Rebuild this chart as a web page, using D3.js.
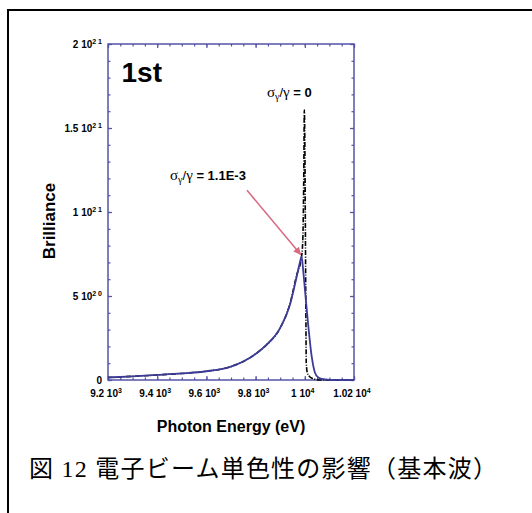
<!DOCTYPE html>
<html>
<head>
<meta charset="utf-8">
<script src="https://cdn.jsdelivr.net/npm/d3@7"></script>
<style>
  body { margin: 0; background: #fff; }
  text { font-family: "Liberation Sans", Arial, sans-serif; }
</style>
</head>
<body>
<div id="chart"></div>
<script>
// energies in eV, brilliance in units of 1e20
var energyBlue = [9200, 9300, 9400, 9500, 9600, 9700, 9750, 9800, 9845, 9900, 9940, 9967, 9980, 9987, 9993, 10001, 10013, 10028, 10041, 10055, 10069, 10100, 10200];
var brillBlue  = [0.15, 0.22, 0.30, 0.39, 0.52, 0.80, 1.1, 1.55, 2.1, 3.1, 4.5, 6.15, 7.0, 7.34, 6.6, 5.3, 3.4, 1.4, 0.45, 0.15, 0.06, 0.01, 0];

var energyBlack = [9200, 9300, 9400, 9500, 9600, 9700, 9750, 9800, 9845, 9900, 9940, 9967, 9985, 9990, 9993, 9996, 9998, 10000, 10002, 10004, 10006, 10010, 10020, 10030, 10045, 10060, 10200];
var brillBlack  = [0.15, 0.22, 0.30, 0.39, 0.52, 0.80, 1.1, 1.55, 2.1, 3.1, 4.55, 6.25, 7.2, 7.8, 9.0, 12.5, 16.07, 14.5, 10, 5, 1.0, 0.45, 0.2, 0.1, 0.03, 0, 0];

var xTicks = [9200, 9400, 9600, 9800, 10000, 10200];
var xTickLabels = [["9.2", "3"], ["9.4", "3"], ["9.6", "3"], ["9.8", "3"], ["1", "4"], ["1.02", "4"]];
var yTicks = [0, 5, 10, 15, 20];
var yTickLabels = [["0", ""], ["5", "20"], ["1", "21"], ["1.5", "21"], ["2", "21"]];

var width = 532, height = 513;
var plot = {left: 108, top: 44, right: 354, bottom: 380};

var axisColor = "#5454a6";
var blueColor = "#3c3c98";
var pink = "#d8677f";

var svg = d3.select("#chart").append("svg")
  .attr("width", width)
  .attr("height", height);

// outer frame
svg.append("rect")
  .attr("x", 8).attr("y", 10)
  .attr("width", 540).attr("height", 540)
  .attr("fill", "none")
  .attr("stroke", "#000")
  .attr("stroke-width", 2);

var x = d3.scaleLinear().domain([9200, 10200]).range([plot.left, plot.right]);
var y = d3.scaleLinear().domain([0, 20]).range([plot.bottom, plot.top]);

// ticks (inward, on all four sides)
function ticks(axis, vals, size, tr) {
  var g = svg.append("g")
    .attr("transform", tr)
    .call(axis.tickValues(vals).tickSize(size).tickFormat(""));
  g.select(".domain").remove();
  g.selectAll("line").attr("stroke", axisColor).attr("stroke-width", 1.2);
}
var xMinor = d3.range(9200, 10201, 50);
var yMinor = d3.range(0, 20.01, 1);
ticks(d3.axisBottom(x), xMinor, -2.5, "translate(0," + plot.bottom + ")");
ticks(d3.axisBottom(x), xTicks, -4, "translate(0," + plot.bottom + ")");
ticks(d3.axisTop(x), xMinor, -2.5, "translate(0," + plot.top + ")");
ticks(d3.axisTop(x), xTicks, -4, "translate(0," + plot.top + ")");
ticks(d3.axisLeft(y), yMinor, -2.5, "translate(" + plot.left + ",0)");
ticks(d3.axisLeft(y), yTicks, -4, "translate(" + plot.left + ",0)");
ticks(d3.axisRight(y), yMinor, -2.5, "translate(" + plot.right + ",0)");
ticks(d3.axisRight(y), yTicks, -4, "translate(" + plot.right + ",0)");

// frame
svg.append("rect")
  .attr("x", plot.left).attr("y", plot.top)
  .attr("width", plot.right - plot.left).attr("height", plot.bottom - plot.top)
  .attr("fill", "none")
  .attr("stroke", axisColor)
  .attr("stroke-width", 1.5);

// tick labels
function tickLabel(sel, d) {
  sel.append("tspan").text(d[0] + (d[1] ? " 10" : ""));
  if (d[1]) {
    sel.append("tspan").attr("font-size", 7).attr("dy", -4).text(d[1].split("").join(" "));
  }
}
xTicks.forEach(function(v, i) {
  var t = svg.append("text")
    .attr("x", x(v) - 2).attr("y", 397)
    .attr("text-anchor", "middle")
    .attr("font-size", 10)
    .attr("font-weight", "bold");
  tickLabel(t, xTickLabels[i]);
});
yTicks.forEach(function(v, i) {
  var t = svg.append("text")
    .attr("x", 102).attr("y", y(v) + 3.5)
    .attr("text-anchor", "end")
    .attr("font-size", 10)
    .attr("font-weight", "bold");
  tickLabel(t, yTickLabels[i]);
});

// axis titles
svg.append("text")
  .attr("x", (plot.left + plot.right) / 2).attr("y", 432)
  .attr("text-anchor", "middle")
  .attr("font-size", 16).attr("font-weight", "bold")
  .text("Photon Energy (eV)");
svg.append("text")
  .attr("transform", "translate(55,221) rotate(-90)")
  .attr("text-anchor", "middle")
  .attr("font-size", 17).attr("font-weight", "bold")
  .text("Brilliance");

// curves
var line = d3.line()
  .x(function(d) { return x(d[0]); })
  .y(function(d) { return y(d[1]); })
  .curve(d3.curveMonotoneX);

svg.append("path")
  .datum(d3.zip(energyBlack, brillBlack))
  .attr("d", line)
  .attr("fill", "none")
  .attr("stroke", "#000")
  .attr("stroke-width", 1.6)
  .attr("stroke-dasharray", "5,1.5,1,1.5");

svg.append("path")
  .datum(d3.zip(energyBlue, brillBlue))
  .attr("d", line)
  .attr("fill", "none")
  .attr("stroke", blueColor)
  .attr("stroke-width", 1.8);

// labels
svg.append("text")
  .attr("x", x(9255)).attr("y", 82)
  .attr("font-size", 28).attr("font-weight", "bold")
  .text("1st");

function sigmaLabel(ex, by, rest) {
  var t = svg.append("text")
    .attr("x", x(ex)).attr("y", y(by))
    .attr("font-size", 13);
  t.append("tspan").attr("font-family", "Liberation Serif, serif").attr("font-size", 15).text("σ");
  t.append("tspan").attr("font-family", "Liberation Serif, serif").attr("font-size", 10).attr("dy", 3).text("γ");
  t.append("tspan").attr("dy", -3).text("/");
  t.append("tspan").attr("font-family", "Liberation Serif, serif").attr("font-size", 15).text("γ");
  t.append("tspan").attr("font-weight", "bold").text(" = " + rest);
}
sigmaLabel(9846, 16.85, "0");
sigmaLabel(9452, 11.9, "1.1E-3");

// arrow
svg.append("defs").append("marker")
  .attr("id", "head")
  .attr("viewBox", "0 -5 10 10")
  .attr("refX", 10).attr("refY", 0)
  .attr("markerWidth", 6).attr("markerHeight", 5)
  .attr("orient", "auto")
  .append("path")
  .attr("d", "M0,-5L10,0L0,5Z")
  .attr("fill", pink);

svg.append("line")
  .attr("x1", x(9765)).attr("y1", y(11.3))
  .attr("x2", x(9984)).attr("y2", y(7.45))
  .attr("stroke", pink)
  .attr("stroke-width", 1.5)
  .attr("marker-end", "url(#head)");

// caption
svg.append("text")
  .attr("x", 29).attr("y", 477)
  .attr("font-size", 24)
  .attr("textLength", 468)
  .attr("lengthAdjust", "spacing")
  .style("font-family", "'Liberation Serif', 'Noto Sans CJK JP', serif")
  .text("図 12 電子ビーム単色性の影響（基本波）");
</script>
</body>
</html>
